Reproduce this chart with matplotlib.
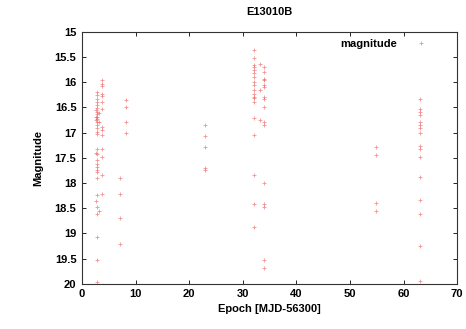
import matplotlib
matplotlib.use('Agg')
import matplotlib.pyplot as plt
from matplotlib.ticker import FuncFormatter, MultipleLocator

# datos (epoca, magnitud)
epoca_a = [2.85] * 29
mag_a = [16.19, 16.26, 16.33, 16.39, 16.46, 16.52, 16.59, 16.64, 16.69, 16.74,
         16.79, 16.86, 16.92, 16.99, 17.02, 17.32, 17.42, 17.55, 17.62, 17.68,
         17.75, 17.78, 17.91, 18.24, 18.48, 18.61, 19.07, 19.53, 19.96]
epoca_a2 = [2.6, 2.6, 2.6, 3.1, 3.1, 2.6, 3.1, 2.6]
mag_a2 = [16.55, 16.7, 16.75, 16.8, 16.62, 17.4, 18.55, 18.35]
epoca_b = [3.8] * 14
mag_b = [15.96, 16.03, 16.08, 16.23, 16.28, 16.39, 16.54, 16.89, 16.95, 17.05,
         17.32, 17.48, 17.85, 18.22]
epoca_c = [7.1, 7.1, 7.1, 7.1, 8.2, 8.2, 8.2, 8.2]
mag_c = [17.9, 18.22, 18.7, 19.2, 16.36, 16.5, 16.8, 17.0]
epoca_d = [22.9, 22.9, 22.9, 22.9, 22.9]
mag_d = [16.86, 17.07, 17.29, 17.7, 17.74]
epoca_e = [32.0] * 19
mag_e = [15.37, 15.53, 15.66, 15.7, 15.76, 15.83, 15.9, 16.0, 16.06, 16.16,
         16.23, 16.29, 16.32, 16.39, 16.72, 17.05, 17.85, 18.41, 18.87]
epoca_f = [33.2, 33.2, 33.2]
mag_f = [15.64, 16.15, 16.76]
epoca_g = [34.0] * 16
mag_g = [15.7, 15.8, 15.93, 15.96, 16.06, 16.1, 16.29, 16.33, 16.49, 16.79,
         16.86, 18.01, 18.41, 18.48, 19.53, 19.68]
epoca_h = [54.9, 54.9, 54.9, 54.9]
mag_h = [17.29, 17.45, 18.4, 18.56]
epoca_i = [63.1] * 16
mag_i = [16.33, 16.54, 16.59, 16.65, 16.79, 16.85, 16.92, 17.0, 17.27, 17.32,
         17.48, 17.88, 18.33, 18.62, 19.24, 19.94]

epocas = epoca_a + epoca_a2 + epoca_b + epoca_c + epoca_d + epoca_e + epoca_f + epoca_g + epoca_h + epoca_i
mags = mag_a + mag_a2 + mag_b + mag_c + mag_d + mag_e + mag_f + mag_g + mag_h + mag_i

plt.rcParams['font.family'] = ['Liberation Sans', 'DejaVu Sans']
plt.rcParams['font.weight'] = 'bold'
plt.rcParams['font.size'] = 8

fig = plt.figure(figsize=(4.66, 3.29), dpi=100)
ax = fig.add_axes([0.176, 0.137, 0.805, 0.767])

ax.plot(epocas, mags, linestyle='none', marker='+', markersize=3.2,
        markeredgewidth=0.6, color='#ec5a5a', alpha=0.65, label='magnitude')

ax.set_xlim(0, 70)
ax.set_ylim(20, 15)
ax.xaxis.set_major_locator(MultipleLocator(10))
ax.yaxis.set_major_locator(MultipleLocator(0.5))
ax.yaxis.set_major_formatter(FuncFormatter(lambda v, p: '%g' % v))
ax.tick_params(direction='in', top=True, right=True, length=3, width=0.6,
               labelsize=8, pad=4)
for s in ax.spines.values():
    s.set_linewidth(0.8)
    s.set_color('#333333')

ax.set_title('E13010B', fontsize=8, fontweight='bold', pad=12)
ax.set_xlabel('Epoch [MJD-56300]', fontsize=8, fontweight='bold', labelpad=3)
ax.set_ylabel('Magnitude', fontsize=8, fontweight='bold', labelpad=8)

ax.legend(loc='upper right', bbox_to_anchor=(0.955, 1.0), frameon=False,
          markerfirst=False, fontsize=8, handlelength=2.2, handletextpad=1.0,
          borderaxespad=0.25)

fig.savefig('out.png', dpi=100)
